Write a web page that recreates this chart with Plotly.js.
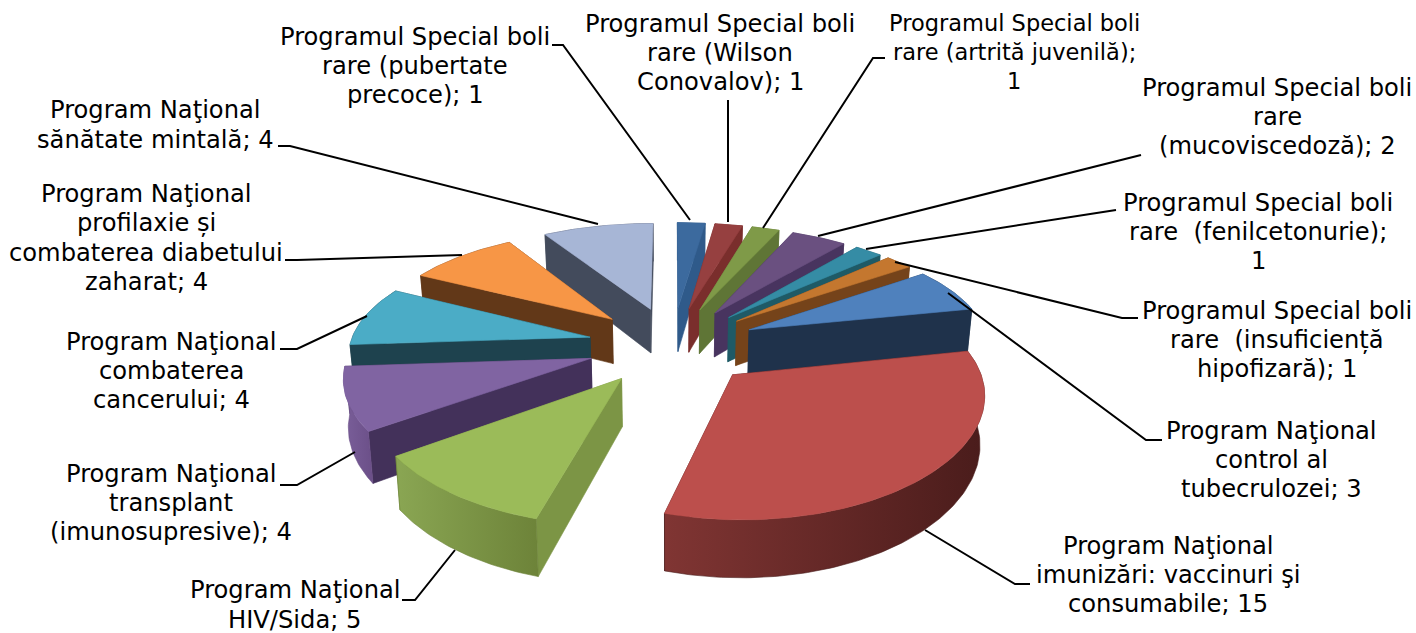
<!DOCTYPE html>
<html><head><meta charset="utf-8">
<script src="https://cdn.plot.ly/plotly-3.0.1.min.js"></script>
<style>html,body{margin:0;padding:0;background:#fff}#chart{width:1416px;height:633px}</style>
</head><body><div id="chart"></div>
<script>
// ---- data (clockwise from 12 o'clock) ----
const categories = [
 "Programul Special boli<br>rare (pubertate<br>precoce)",
 "Programul Special boli<br>rare (Wilson<br>Conovalov)",
 "Programul Special boli<br>rare (artrită juvenilă);<br>",
 "Programul Special boli<br>rare<br>(mucoviscedoză)",
 "Programul Special boli<br>rare  (fenilcetonurie);<br>",
 "Programul Special boli<br>rare  (insuficiență<br>hipofizară)",
 "Program Naţional<br>control al<br>tubecrulozei",
 "Program Naţional<br>imunizări: vaccinuri şi<br>consumabile",
 "Program Naţional<br>HIV/Sida",
 "Program Naţional<br>transplant<br>(imunosupresive)",
 "Program Naţional<br>combaterea<br>cancerului",
 "Program Naţional<br>profilaxie și<br>combaterea diabetului<br>zaharat",
 "Program Naţional<br>sănătate mintală"
];
const values = [1,1,1,2,1,1,3,15,5,4,4,4,4];

// ---- styles ----
const topColors  = ["#3c6a9e","#964040","#7f9a48","#6a5080","#358ca5","#c4772f","#4f81bd","#bc4f4c","#9bbb59","#8064a2","#4bacc6","#f79646","#a7b6d6"];
const sideColors = ["#2f5a8a","#7a2e2c","#5f7536","#48345f","#1f5a66","#75431a","#1f324b","#43191a","#7c9545","#43315a","#1e424e","#623818","#434b5c"];
const arcLeft    = ["#2f5a8a","#7a2e2c","#5f7536","#48345f","#1f5a66","#75431a","#1f324b","#803533","#8aa653","#7a5f9a","#1e424e","#623818","#434b5c"];
const arcRight   = ["#2f5a8a","#7a2e2c","#5f7536","#48345f","#1f5a66","#75431a","#1f324b","#4a1c1b","#6d8339","#6b4f88","#1e424e","#623818","#434b5c"];
const labelX = [415,720,1014,1277,1258,1277,1271,1168,295,171,171,146,155];
const labelY = [66,53,52,117,232,340,460,575,605,503,371,238,125];
const labelSize = [24.2,24.2,22.5,24.2,24.2,24.2,24.2,24.2,24.2,24.2,24.2,24.2,24.2];
const lineGap = 29.3;
const leaders = [
 [[552,45],[563,45],[690,220]],
 [[728,100],[728,222]],
 [[885,58],[873,58],[763,228]],
 [[1141,155],[818,236]],
 [[1116,210],[866,249]],
 [[1138,318],[1122,318],[895,262]],
 [[1162,440],[1146,440],[948,293]],
 [[1030,584],[1015,584],[925,530]],
 [[402,600],[415,600],[455,550]],
 [[280,485],[297,485],[355,452]],
 [[280,349],[297,349],[367,316]],
 [[285,260],[297,260],[462,255]],
 [[278,146],[290,146],[598,224]]
];

// ---- 3-D projection of the exploded pie ----
const cx=672.5, cy=345, perspX=0.00055, perspY=0.00068, tilt=0.46, pull=85, radius=240, height=46;
const total = values.reduce((a,b)=>a+b,0);
function project(X,Y,down){
  const sx = 1/(1+perspX*Y), sy = 1/(1+perspY*Y);
  return [cx + sx*X*(down?0.985:1), cy - sy*Y*tilt + (down?height*sy:0)];
}
function poly(pts,down){ return pts.map(p=>project(p[0],p[1],down)); }
function face(pts,opts){
  const xs=pts.map(p=>p[0]), ys=pts.map(p=>p[1]);
  xs.push(xs[0]); ys.push(ys[0]);
  return Object.assign({type:'scatter',mode:'lines',x:xs,y:ys,fill:'toself',
    line:{width:0.6,color:opts.fillcolor||'rgba(0,0,0,0)'},hoverinfo:'skip',showlegend:false},opts);
}
const slices=[]; let cum=0;
values.forEach((v,i)=>{
  const a0=cum/total*2*Math.PI, a1=(cum+v)/total*2*Math.PI, mid=(a0+a1)/2; cum+=v;
  const ax=pull*Math.sin(mid), ay=pull*Math.cos(mid);
  const arc=[]; const n=Math.max(6,Math.round(v*8));
  for(let j=0;j<=n;j++){const t=a0+(a1-a0)*j/n; arc.push([ax+radius*Math.sin(t),ay+radius*Math.cos(t)]);}
  const apex=[ax,ay];
  const walls=[];
  // radial walls
  [[apex,arc[0]],[apex,arc[n]]].forEach(seg=>{
    const t=poly(seg,false), b=poly(seg,true);
    walls.push({depth:(seg[0][1]+seg[1][1])/2,
      trace:face([t[0],t[1],b[1],b[0]],{fillcolor:sideColors[i]})});
  });
  // outer wall
  const tp=poly(arc,false), bt=poly(arc,true).reverse();
  walls.push({depth:ay+radius*Math.cos(mid),
    trace:face(tp.concat(bt),{fillcolor:arcRight[i],
      fillgradient:{type:'horizontal',colorscale:[[0,arcLeft[i]],[1,arcRight[i]]]}})});
  walls.sort((a,b)=>b.depth-a.depth);
  const traces=walls.map(w=>w.trace);
  traces.push(face(poly([apex].concat(arc),false),{fillcolor:topColors[i]}));
  slices.push({depth:ay,traces});
});
slices.sort((a,b)=>b.depth-a.depth);
const data=[]; slices.forEach(s=>data.push(...s.traces));

const annotations=[];
categories.forEach((c,i)=>{
  const text=c.endsWith('<br>')? c+values[i] : c+'; '+values[i];
  const lines=text.split('<br>');
  lines.forEach((ln,j)=>annotations.push({text:ln,x:labelX[i],y:labelY[i]+(j-(lines.length-1)/2)*lineGap,
    xref:'x',yref:'y',showarrow:false,xanchor:'center',yanchor:'middle',
    font:{family:'DejaVu Sans',size:labelSize[i],color:'#000'}}));
});
const shapes=leaders.map(L=>({type:'path',xref:'x',yref:'y',
  path:'M'+L.map(p=>p[0]+' '+p[1]).join('L'),line:{color:'#000',width:2},layer:'above'}));

Plotly.newPlot('chart',data,{
  width:1416,height:633,margin:{l:0,r:0,t:0,b:0},paper_bgcolor:'#fff',plot_bgcolor:'#fff',showlegend:false,
  xaxis:{range:[0,1416],visible:false,fixedrange:true},
  yaxis:{range:[633,0],visible:false,fixedrange:true},
  annotations,shapes
},{displayModeBar:false,staticPlot:true});
</script></body></html>
